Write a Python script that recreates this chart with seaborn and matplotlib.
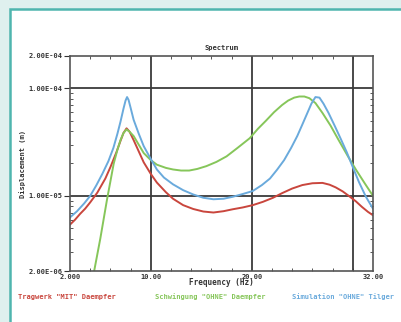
import numpy as np
import pandas as pd
import matplotlib
matplotlib.use("Agg")
import matplotlib.pyplot as plt
import seaborn as sns
from matplotlib.patches import Rectangle
from matplotlib.ticker import FixedLocator, NullFormatter, LogLocator

# ---- data ----
series_names = ['Tragwerk "MIT" Daempfer', 'Schwingung "OHNE" Daempfer', 'Simulation "OHNE" Tilger']

red_freq = [2.0, 2.5, 3.0, 3.5, 4.0, 4.7, 5.5, 6.0, 6.6, 7.0, 7.3, 7.6, 7.9, 8.3, 8.8, 9.3, 10.0,
            10.6, 11.5, 12.2, 13.2, 14.2, 15.2, 16.2, 17.2, 18.1, 19.1, 20.1, 21.1, 22.1, 23.0,
            24.0, 25.0, 26.0, 27.0, 27.7, 28.3, 29.0, 29.6, 30.3, 30.9, 31.5, 32.0]
red_vals = [5.4e-6, 6.0e-6, 6.8e-6, 7.6e-6, 8.7e-6, 1.07e-5, 1.45e-5, 1.85e-5, 2.55e-5, 3.25e-5,
            3.85e-5, 4.25e-5, 3.95e-5, 3.3e-5, 2.6e-5, 2.05e-5, 1.6e-5, 1.33e-5, 1.08e-5, 9.4e-6,
            8.2e-6, 7.55e-6, 7.15e-6, 7.0e-6, 7.2e-6, 7.5e-6, 7.8e-6, 8.2e-6, 8.8e-6, 9.6e-6,
            1.06e-5, 1.17e-5, 1.26e-5, 1.31e-5, 1.32e-5, 1.27e-5, 1.2e-5, 1.1e-5, 1.0e-5, 8.9e-6,
            7.9e-6, 7.1e-6, 6.6e-6]

green_freq = [4.3, 5.0, 5.67, 6.33, 6.7, 7.0, 7.3, 7.6, 7.9, 8.3, 8.8, 9.3, 10.0, 10.6, 11.5, 12.2,
              13.0, 13.8, 14.6, 15.5, 16.5, 17.5, 18.6, 19.8, 20.6, 21.4, 22.2, 23.0, 23.6, 24.2,
              24.7, 25.2, 25.7, 26.3, 27.0, 27.8, 28.6, 29.5, 30.3, 31.2, 32.0]
green_vals = [1.8e-6, 4.0e-6, 9.3e-6, 2.0e-5, 2.7e-5, 3.3e-5, 3.85e-5, 4.15e-5, 3.95e-5, 3.6e-5,
              3.0e-5, 2.5e-5, 2.15e-5, 1.95e-5, 1.82e-5, 1.76e-5, 1.72e-5, 1.72e-5, 1.78e-5,
              1.89e-5, 2.07e-5, 2.33e-5, 2.8e-5, 3.44e-5, 4.2e-5, 5.0e-5, 6.0e-5, 7.0e-5, 7.7e-5,
              8.2e-5, 8.4e-5, 8.4e-5, 8.1e-5, 7.3e-5, 5.9e-5, 4.5e-5, 3.3e-5, 2.35e-5, 1.76e-5,
              1.3e-5, 1.0e-5]

blue_freq = [2.0, 2.7, 3.4, 4.0, 4.6, 5.2, 5.8, 6.3, 6.7, 7.0, 7.3, 7.5, 7.65, 7.8, 8.0, 8.3,
             8.8, 9.3, 10.0, 10.6, 11.3, 12.2, 13.2, 14.2, 15.2, 16.2, 17.2, 18.1, 19.1, 20.1,
             21.0, 21.8, 22.5, 23.2, 23.9, 24.5, 25.0, 25.5, 25.9, 26.3, 26.7, 27.1, 27.6, 28.2,
             28.8, 29.4, 30.0, 30.6, 31.3, 32.0]
blue_vals = [6.3e-6, 7.2e-6, 8.5e-6, 1.0e-5, 1.25e-5, 1.6e-5, 2.1e-5, 2.8e-5, 3.8e-5, 4.9e-5,
             6.5e-5, 7.7e-5, 8.3e-5, 7.8e-5, 6.6e-5, 5.1e-5, 3.8e-5, 2.9e-5, 2.2e-5, 1.76e-5,
             1.48e-5, 1.28e-5, 1.13e-5, 1.03e-5, 9.6e-6, 9.3e-6, 9.4e-6, 9.8e-6, 1.04e-5, 1.11e-5,
             1.26e-5, 1.45e-5, 1.75e-5, 2.15e-5, 2.8e-5, 3.6e-5, 4.6e-5, 5.9e-5, 7.2e-5, 8.3e-5,
             8.2e-5, 7.2e-5, 5.9e-5, 4.5e-5, 3.4e-5, 2.55e-5, 1.85e-5, 1.35e-5, 9.8e-6, 7.6e-6]

x_ticks = [2, 10, 20, 32]
x_ticklabels = ["2.000", "10.00", "20.00", "32.00"]
y_ticks = [2e-6, 1e-5, 1e-4, 2e-4]
y_ticklabels = ["2.00E-06", "1.00E-05", "1.00E-04", "2.00E-04"]
x_grid = [10, 20, 30]
y_grid = [1e-5, 1e-4]

colors = ["#c9463d", "#86c65a", "#6aaadc"]

df = pd.concat([
    pd.DataFrame({"freq": red_freq, "disp": red_vals, "series": series_names[0]}),
    pd.DataFrame({"freq": green_freq, "disp": green_vals, "series": series_names[1]}),
    pd.DataFrame({"freq": blue_freq, "disp": blue_vals, "series": series_names[2]}),
])

sns.set_style("white")
plt.rcParams["font.family"] = ["DejaVu Sans Mono", "DejaVu Sans"]

fig = plt.figure(figsize=(4.01, 3.22), dpi=100)
fig.patch.set_facecolor("#dff0ee")
# white panel with teal border
fig.add_artist(Rectangle((10/401, -0.05), 1.0, 1 - 9/322 + 0.05, transform=fig.transFigure,
                         facecolor="white", edgecolor="#4fb5ae", linewidth=1.8, zorder=0))

ax = fig.add_axes([70/401, 1 - 271/322, (373 - 70)/401, (271 - 56)/322])
ax.set_facecolor("white")

sns.lineplot(data=df, x="freq", y="disp", hue="series", palette=colors, ax=ax,
             linewidth=1.4, legend=False, sort=False, estimator=None)

ax.set_yscale("log")
ax.set_xlim(2, 32)
ax.set_ylim(2e-6, 2e-4)

for gx in x_grid:
    ax.axvline(gx, color="#3a3a3a", linewidth=1.3, zorder=1)
for gy in y_grid:
    ax.axhline(gy, color="#3a3a3a", linewidth=1.3, zorder=1)

ax.set_xticks(x_ticks)
ax.set_xticklabels(x_ticklabels)
ax.xaxis.set_minor_locator(FixedLocator(np.arange(4, 31, 2)))
ax.set_yticks(y_ticks)
ax.set_yticklabels(y_ticklabels)
ax.yaxis.set_minor_locator(LogLocator(base=10, subs=np.arange(2, 10)))
ax.yaxis.set_minor_formatter(NullFormatter())

ax.tick_params(axis="both", which="major", labelsize=5, colors="#333333", width=0.8, pad=1.5,
               left=True, bottom=True)
ax.tick_params(axis="x", which="major", direction="in", length=0, pad=2)
ax.tick_params(axis="y", which="major", direction="out", length=4)
ax.tick_params(axis="both", which="minor", direction="in", length=2.5, width=0.7,
               colors="#555555", left=True, bottom=True, right=True, top=True)
for lab in ax.get_xticklabels() + ax.get_yticklabels():
    lab.set_fontweight("bold")

for s in ax.spines.values():
    s.set_color("#555555")
    s.set_linewidth(1.2)

ax.set_title("Spectrum", fontsize=5, fontweight="bold", color="#333333", pad=4)
ax.set_xlabel("Frequency (Hz)", fontsize=5.5, fontweight="bold", color="#333333", labelpad=-1)
ax.set_ylabel("Displacement (m)", fontsize=5, fontweight="bold", color="#333333", labelpad=2)

legend_x = [18/401, 155/401, 292/401]
for name, c, lx in zip(series_names, colors, legend_x):
    fig.text(lx, 1 - 297/322, name, color=c, fontsize=5, fontweight="bold", va="center", ha="left")

fig.savefig("out.png", dpi=100, facecolor=fig.get_facecolor())
